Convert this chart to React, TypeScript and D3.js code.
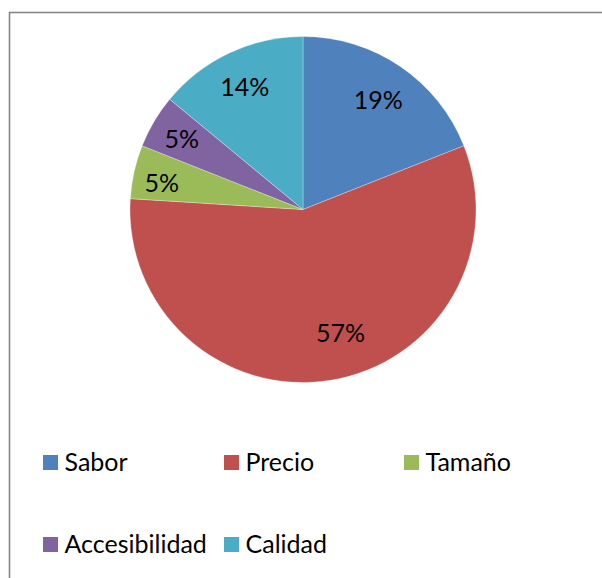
import React from "react";
import * as d3 from "d3";

const categories = ["Sabor", "Precio", "Tamaño", "Accesibilidad", "Calidad"];
const values = [19, 57, 5, 5, 14];
const labels = ["19%", "57%", "5%", "5%", "14%"];
const colors = ["#4F81BD", "#C0504D", "#9BBB59", "#8064A2", "#4BACC6"];

// layout constants (not data)
const W = 602;
const H = 578;
const CX = 303;
const CY = 209.5;
const R = 173;
const labelRadius = [134, 128, 144, 141, 137];
const labelAngleShift = [0, -0.14, -0.025, 0, 0];
const FONT = "Lato, 'Open Sans', sans-serif";

export default function App() {
  const pie = d3
    .pie<number>()
    .sort(null)
    .value((d) => d)(values);
  const arc = d3.arc<d3.PieArcDatum<number>>().innerRadius(0).outerRadius(R);

  const legendCols = [43, 224, 404];
  const legendRows = [455, 537];

  return (
    <svg
      width={W}
      height={H}
      style={{ position: "absolute", left: 0, top: 0, background: "#fff" }}
      fontFamily={FONT}
    >
      <rect x={0} y={0} width={W} height={H} fill="#fff" />
      <rect
        x={9.5}
        y={12.5}
        width={W + 20}
        height={H + 20}
        fill="none"
        stroke="#878787"
        strokeWidth={1.6}
      />
      <g transform={`translate(${CX},${CY})`}>
        {pie.map((p, i) => (
          <path key={categories[i]} d={arc(p) || ""} fill={colors[i]} stroke="#fff" strokeWidth={0.3} />
        ))}
        {pie.map((p, i) => {
          const a = (p.startAngle + p.endAngle) / 2 + labelAngleShift[i];
          const r = labelRadius[i];
          const x = Math.sin(a) * r;
          const y = -Math.cos(a) * r;
          return (
            <text
              key={"l" + i}
              x={x}
              y={y}
              textAnchor="middle"
              dominantBaseline="central"
              fontSize={25}
              fill="#000"
            >
              {labels[i]}
            </text>
          );
        })}
      </g>
      {categories.map((c, i) => {
        const col = i % 3;
        const row = Math.floor(i / 3);
        const x = legendCols[col];
        const y = legendRows[row];
        return (
          <g key={"lg" + c}>
            <rect x={x} y={y} width={15} height={15} fill={colors[i]} />
            <text x={x + 21.5} y={y + 16} fontSize={25} fill="#000">
              {c}
            </text>
          </g>
        );
      })}
    </svg>
  );
}
